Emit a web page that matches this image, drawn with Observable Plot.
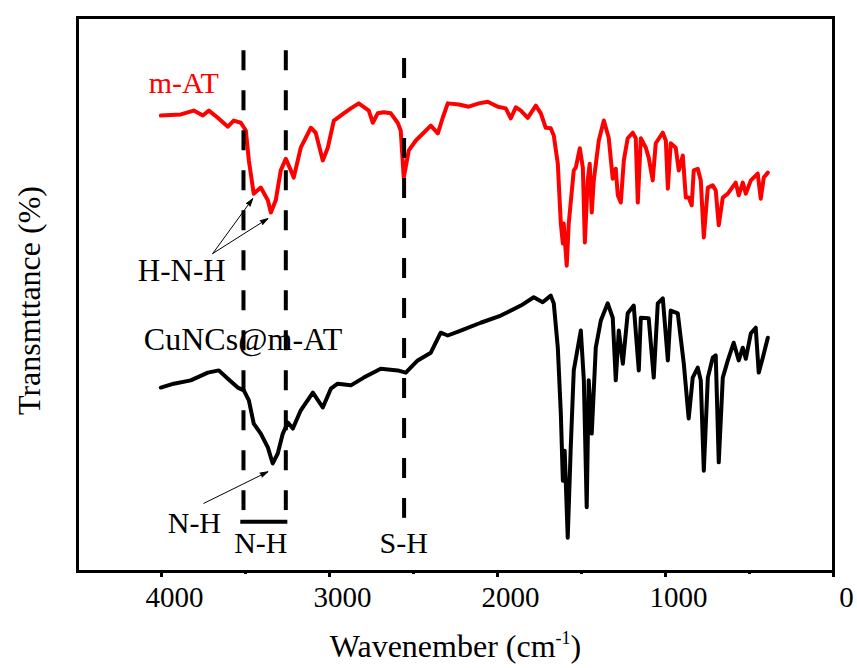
<!DOCTYPE html>
<html><head><meta charset="utf-8">
<script src="https://cdn.jsdelivr.net/npm/d3@7"></script>
<script src="https://cdn.jsdelivr.net/npm/@observablehq/plot@0.6"></script>
<style>
html,body{margin:0;padding:0;background:#fff;}
</style>
</head><body><div id="chart"></div>
<script>
// m-AT spectrum (red)
const redWavenumber = [4004,3885,3808,3754,3718,3665,3605,3570,3528,3498,
  3480,3451,3409,3367,3349,3320,3290,3260,3230,3213,
  3171,3111,3082,3040,3010,2974,2915,2873,2826,2766,
  2742,2713,2677,2635,2594,2576,2558,2528,2486,2439,
  2397,2355,2326,2296,2230,2171,2111,2058,1998,1951,
  1921,1891,1861,1820,1772,1742,1713,1683,1665,1641,
  1623,1611,1606,1588,1576,1546,1534,1510,1492,1480,
  1463,1451,1439,1427,1397,1367,1338,1314,1296,1284,
  1266,1248,1225,1195,1177,1165,1147,1117,1100,1076,
  1058,1016,998,986,969,939,921,897,879,862,
  844,832,808,790,772,748,719,701,683,659,
  629,582,564,540,522,492,451,433,415,391];
const redTransmittance = [82.3,82.5,83.2,82.3,83.2,81.9,80.3,81.4,81.0,79.6,
  74.2,68.2,69.3,67.0,64.8,67.0,72.4,74.5,72.4,71.1,
  76.5,80.1,79.2,74.2,76.5,81.4,82.7,83.6,84.5,83.2,
  81.0,82.7,82.9,82.7,81.0,79.6,71.1,76.0,77.8,79.2,
  80.5,79.1,81.9,84.5,84.3,83.9,84.5,84.8,83.9,83.6,
  81.8,83.8,83.2,81.9,84.1,82.7,80.1,80.0,78.7,73.6,
  62.8,59.2,62.8,55.2,62.8,72.4,72.9,76.4,72.9,59.4,
  70.6,73.6,64.8,70.6,77.8,81.4,78.3,70.9,72.7,67.9,
  66.6,74.2,78.2,79.2,78.2,66.6,78.2,76.5,74.7,70.6,
  77.3,79.2,77.8,69.1,77.3,76.5,72.4,75.1,67.5,67.5,
  66.1,72.4,72.7,70.6,60.3,69.3,69.7,68.8,62.5,67.5,
  68.2,70.2,67.9,70.2,68.2,70.6,71.8,67.3,71.1,72.0];

// CuNCs@m-AT spectrum (black)
const blackWavenumber = [4004,3927,3826,3724,3659,3605,3546,3510,3480,3451,
  3409,3367,3338,3308,3278,3248,3218,3171,3099,3040,
  2992,2951,2873,2796,2695,2594,2546,2475,2397,2338,
  2296,2219,2100,1980,1861,1784,1731,1683,1665,1641,
  1623,1611,1600,1582,1564,1546,1504,1486,1469,1457,
  1439,1415,1385,1344,1314,1296,1278,1254,1225,1189,
  1159,1147,1100,1070,1046,1016,986,969,927,891,
  862,838,808,790,772,748,719,701,683,659,
  629,594,564,540,522,492,463,445,421,391];
const blackTransmittance = [33.2,33.9,34.5,35.9,36.3,34.8,33.2,32.7,30.9,26.7,
  24.9,22.4,19.5,21.3,24.9,26.9,25.8,29.1,32.3,29.6,
  33.0,33.9,33.6,35.0,36.6,36.3,35.9,38.1,39.5,43.1,
  42.6,43.5,44.9,46.2,48.0,49.5,48.6,49.8,48.4,40.4,
  28.5,16.4,21.8,6.1,22.4,36.3,43.5,34.5,11.6,34.5,
  24.9,40.4,45.3,48.4,45.8,34.5,43.5,37.5,46.6,48.0,
  36.3,45.8,45.7,35.0,48.4,49.3,38.1,47.1,46.6,37.5,
  27.6,35.0,36.8,34.5,18.2,35.0,38.6,39.0,19.7,35.0,
  38.1,41.3,38.1,40.4,38.4,43.0,44.0,35.9,38.6,42.2];

const majorTicks = [4000, 3000, 2000, 1000, 0];
const minorTicks = [3500, 2500, 1500, 500];

// dashed guide lines (wavenumber, top, bottom)
const guideWavenumber = [3512, 3260, 2556];
const guideTop = [94.0, 94.0, 92.6];
const guideBottom = [11.0, 11.0, 9.6];

// N-H bar
const barFrom = 3528, barTo = 3248, barLevel = 9.0;

// arrows
const arrowX1 = [3695, 3695, 3748];
const arrowY1 = [57.4, 57.4, 12.3];
const arrowX2 = [3457, 3367, 3367];
const arrowY2 = [67.3, 63.7, 18.0];

// labels
const labelText = ["m-AT", "CuNCs@m-AT", "H-N-H", "N-H", "N-H", "S-H"];
const labelX = [4076, 4105, 4141, 3963, 3409, 2558];
const labelY = [86.3, 39.9, 52.5, 6.9, 3.25, 3.25];
const labelColor = ["#ff0000", "#000", "#000", "#000", "#000", "#000"];
const labelAnchor = ["start", "start", "start", "start", "middle", "middle"];
const labelSize = [30, 32, 31, 30, 30, 30];

const xTitle = "Wavenember (cm-1)";
const yTitle = "Transmttance (%)";

const red = redWavenumber.map((w, i) => ({wn: w, t: redTransmittance[i]}));
const black = blackWavenumber.map((w, i) => ({wn: w, t: blackTransmittance[i]}));
const guides = guideWavenumber.map((w, i) => ({wn: w, top: guideTop[i], bottom: guideBottom[i]}));
const arrows = arrowX1.map((x, i) => ({x1: x, y1: arrowY1[i], x2: arrowX2[i], y2: arrowY2[i]}));
const labels = labelText.map((t, i) => ({text: t, x: labelX[i], y: labelY[i], color: labelColor[i], anchor: labelAnchor[i], size: labelSize[i]}));

const FONT = "'Liberation Serif', 'Times New Roman', serif";

const plot = Plot.plot({
  width: 857,
  height: 668,
  marginLeft: 77,
  marginRight: 24,
  marginTop: 17,
  marginBottom: 97,
  style: {fontFamily: FONT, background: "#fff", color: "#000"},
  x: {domain: [4500, 0]},
  y: {domain: [0, 100], axis: null},
  marks: [
    Plot.line(red, {x: "wn", y: "t", stroke: "#ff0000", strokeWidth: 4, strokeLinejoin: "round", strokeLinecap: "round"}),
    Plot.line(black, {x: "wn", y: "t", stroke: "#000", strokeWidth: 4, strokeLinejoin: "round", strokeLinecap: "round"}),
    Plot.ruleX(guides, {x: "wn", y1: "top", y2: "bottom", stroke: "#000", strokeWidth: 4, strokeDasharray: "20,20"}),
    Plot.ruleY([barLevel], {x1: barFrom, x2: barTo, stroke: "#000", strokeWidth: 4}),
    Plot.arrow(arrows, {x1: "x1", y1: "y1", x2: "x2", y2: "y2", stroke: "#000", strokeWidth: 1, headLength: 12, headAngle: 34}),
    ...labels.map(l => Plot.text([l], {x: "x", y: "y", text: "text", fill: l.color, textAnchor: l.anchor, lineAnchor: "bottom", fontSize: l.size, fontFamily: FONT})),
    Plot.frame({stroke: "#000", strokeWidth: 3}),
    Plot.axisX({ticks: majorTicks, tickSize: 6, strokeWidth: 3, tickFormat: () => "", label: null}),
    Plot.axisX({ticks: minorTicks, tickSize: 3, strokeWidth: 3, tickFormat: () => "", label: null}),
    Plot.text(majorTicks, {x: d => d, frameAnchor: "bottom", dy: 35, dx: 13, lineAnchor: "bottom", text: d => String(d), fontSize: 29, fontFamily: FONT}),
    Plot.text([xTitle], {frameAnchor: "bottom", dy: 85, lineAnchor: "bottom", fontSize: 32, fontFamily: FONT}),
    Plot.text([yTitle], {frameAnchor: "left", dx: -48, dy: 6, rotate: -90, textAnchor: "middle", lineAnchor: "middle", fontSize: 32, fontFamily: FONT})
  ]
});

// filled arrowheads
d3.select(plot).selectAll("g[aria-label='arrow'] path").attr("fill", "#000");

d3.select(plot).selectAll("text").filter(function() { return this.textContent === xTitle; })
  .each(function() {
    const t = d3.select(this);
    t.text(null);
    t.append("tspan").text("Wavenember (cm");
    t.append("tspan").attr("dy", -13).attr("font-size", 18).text("-1");
    t.append("tspan").attr("dy", 13).text(")");
  });

document.getElementById("chart").appendChild(plot);
</script>
</body></html>
